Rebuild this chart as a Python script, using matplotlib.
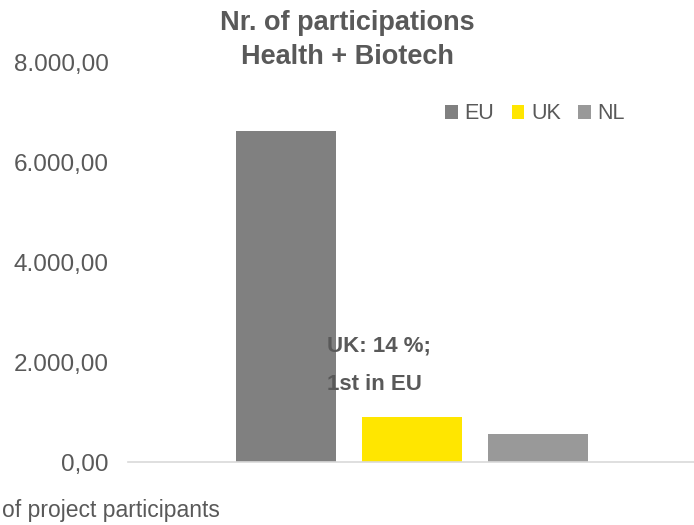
import matplotlib
matplotlib.use("Agg")
import matplotlib.pyplot as plt
from matplotlib.ticker import FuncFormatter
from matplotlib.patches import Patch

plt.rcParams['font.family'] = ['Liberation Sans', 'DejaVu Sans']

# data
series = ["EU", "UK", "NL"]
values = [6630, 895, 555]
colors = ["#808080", "#FFE600", "#999999"]
yticks = [0, 2000, 4000, 6000, 8000]

text_col = "#595959"

fig = plt.figure(figsize=(6.94, 5.25), dpi=100)
ax = fig.add_axes([128/694, 1 - 462/525, 1 - 128/694, (462 - 62)/525])

x = range(len(series))
ax.bar(x, values, width=0.79, color=colors, zorder=2)

ax.set_xlim(-1.254, 3.238)
ax.set_ylim(0, 8000)
ax.set_yticks(yticks)

def euro_fmt(v, pos):
    s = f"{v:,.2f}"
    return s.replace(",", "X").replace(".", ",").replace("X", ".")

ax.yaxis.set_major_formatter(FuncFormatter(euro_fmt))
ax.tick_params(axis='y', length=0, pad=14, labelsize=17.5, labelcolor=text_col)
ax.set_xticks([])
for s in ["top", "right", "left"]:
    ax.spines[s].set_visible(False)
ax.spines["bottom"].set_color("#d9d9d9")
ax.spines["bottom"].set_linewidth(1.2)

# title
fig.text(347/694, 1 - 23/525, "Nr. of participations", ha="center", va="center",
         fontsize=19.5, fontweight="bold", color=text_col)
fig.text(347/694, 1 - 57/525, "Health + Biotech", ha="center", va="center",
         fontsize=19.5, fontweight="bold", color=text_col)

# legend
handles = [Patch(facecolor=c, edgecolor="none") for c in colors]
leg = fig.legend(handles, series, loc="center", bbox_to_anchor=(535/694, 1 - 114/525),
                 ncol=3, frameon=False, fontsize=15.5, handlelength=0.6, handleheight=0.6,
                 handletextpad=0.3, columnspacing=0.8)
for t in leg.get_texts():
    t.set_color(text_col)

# annotation
fig.text(327/694, 1 - 346/525, "UK: 14 %;", ha="left", va="center",
         fontsize=16, fontweight="bold", color=text_col)
fig.text(327/694, 1 - 384/525, "1st in EU", ha="left", va="center",
         fontsize=16, fontweight="bold", color=text_col)

# cut-off axis title
fig.text(2/694, 1 - 510/525, "of project participants", ha="left", va="center",
         fontsize=16.5, color=text_col)

fig.savefig("out.png", dpi=100)
